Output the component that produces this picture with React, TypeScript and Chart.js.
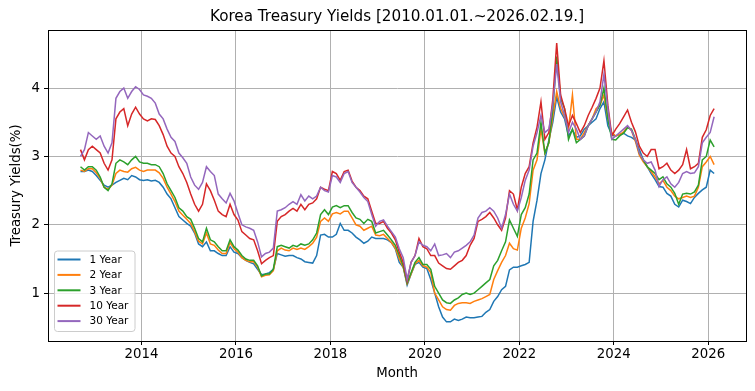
import React, { useEffect, useRef } from "react";
import { Chart, registerables } from "chart.js";

Chart.register(...registerables);

// Monthly observations, first month = 2012-09, last = 2026-02
const startYear = 2012;
const startMonth = 9;

const yield1Y = [
  2.78, 2.78, 2.80, 2.78,
  2.72, 2.65, 2.58, 2.55, 2.58, 2.62, 2.65, 2.68, 2.66, 2.72, 2.70, 2.66,
  2.65, 2.66, 2.64, 2.65, 2.62, 2.55, 2.45, 2.38, 2.25, 2.12, 2.07, 2.02,
  1.98, 1.88, 1.72, 1.68, 1.75, 1.62, 1.62, 1.58, 1.55, 1.55, 1.68, 1.60,
  1.58, 1.52, 1.48, 1.45, 1.43, 1.35, 1.27, 1.28, 1.30, 1.35, 1.58, 1.56,
  1.54, 1.55, 1.55, 1.52, 1.50, 1.46, 1.45, 1.44, 1.55, 1.85, 1.86, 1.82,
  1.82, 1.86, 2.02, 1.92, 1.92, 1.88, 1.82, 1.78, 1.73, 1.76, 1.82, 1.80,
  1.80, 1.80, 1.78, 1.74, 1.65, 1.45, 1.38, 1.12, 1.28, 1.42, 1.45, 1.38,
  1.36, 1.20, 1.00, 0.80, 0.65, 0.58, 0.58, 0.62, 0.60, 0.62, 0.65, 0.64,
  0.64, 0.65, 0.66, 0.72, 0.76, 0.88, 0.95, 1.05, 1.10, 1.34, 1.38, 1.38,
  1.40, 1.42, 1.45, 2.05, 2.36, 2.75, 2.95, 3.24, 3.50, 3.87, 3.65, 3.55,
  3.30, 3.39, 3.28, 3.30, 3.40, 3.45, 3.50, 3.55, 3.70, 3.80, 3.45, 3.32,
  3.30, 3.32, 3.34, 3.30, 3.28, 3.24, 3.10, 2.95, 2.85, 2.75, 2.66, 2.56,
  2.55, 2.46, 2.42, 2.30, 2.26, 2.36, 2.34, 2.31, 2.40, 2.46, 2.51, 2.55,
  2.80, 2.75,
];

const yield2Y = [
  2.80, 2.78, 2.82, 2.82,
  2.76, 2.68, 2.55, 2.52, 2.58, 2.75, 2.80, 2.78, 2.77, 2.82, 2.84, 2.80,
  2.78, 2.80, 2.80, 2.80, 2.76, 2.68, 2.55, 2.45, 2.34, 2.20, 2.14, 2.08,
  2.02, 1.90, 1.76, 1.72, 1.88, 1.72, 1.70, 1.63, 1.58, 1.58, 1.74, 1.65,
  1.60, 1.52, 1.48, 1.46, 1.46, 1.38, 1.24, 1.26, 1.27, 1.33, 1.62, 1.66,
  1.63, 1.62, 1.66, 1.64, 1.66, 1.64, 1.68, 1.73, 1.82, 2.05, 2.10, 2.05,
  2.16, 2.18, 2.16, 2.20, 2.20, 2.10, 2.00, 1.98, 1.92, 1.95, 1.98, 1.85,
  1.84, 1.86, 1.80, 1.74, 1.66, 1.50, 1.38, 1.14, 1.28, 1.43, 1.48, 1.40,
  1.38, 1.30, 1.00, 0.90, 0.80, 0.76, 0.75, 0.82, 0.85, 0.86, 0.86, 0.85,
  0.88, 0.90, 0.92, 0.95, 0.98, 1.20, 1.33, 1.45, 1.55, 1.73, 1.65, 1.63,
  1.95, 2.10, 2.31, 2.80, 2.95, 3.40, 3.05, 3.20, 3.58, 3.95, 3.70, 3.58,
  3.40, 3.90, 3.25, 3.25, 3.35, 3.45, 3.55, 3.70, 3.75, 3.90, 3.55, 3.35,
  3.30, 3.32, 3.36, 3.44, 3.38, 3.22, 3.02, 2.92, 2.85, 2.78, 2.70, 2.60,
  2.65, 2.55, 2.50, 2.42, 2.38, 2.40, 2.42, 2.40, 2.42, 2.55, 2.85, 2.92,
  3.00, 2.88,
];

const yield3Y = [
  2.85, 2.80, 2.85, 2.85,
  2.80, 2.70, 2.55, 2.50, 2.60, 2.90, 2.95, 2.92, 2.88, 2.95, 3.00, 2.92,
  2.90, 2.90, 2.88, 2.88, 2.85, 2.75, 2.60, 2.50, 2.40, 2.25, 2.20, 2.12,
  2.08, 1.95, 1.80, 1.75, 1.95, 1.78, 1.75, 1.68, 1.62, 1.62, 1.78, 1.68,
  1.63, 1.55, 1.50, 1.48, 1.48, 1.40, 1.25, 1.28, 1.28, 1.35, 1.68, 1.70,
  1.68, 1.66, 1.70, 1.68, 1.72, 1.70, 1.72, 1.78, 1.88, 2.15, 2.22, 2.15,
  2.26, 2.28, 2.25, 2.28, 2.28, 2.18, 2.10, 2.08, 2.02, 2.08, 2.05, 1.88,
  1.90, 1.92, 1.85, 1.78, 1.70, 1.55, 1.40, 1.15, 1.30, 1.45, 1.52, 1.42,
  1.42, 1.35, 1.10, 1.00, 0.90, 0.86, 0.85, 0.90, 0.93, 0.98, 1.00, 0.98,
  1.00, 1.05, 1.10, 1.15, 1.20, 1.40, 1.48, 1.62, 1.75, 2.07, 1.95, 1.83,
  2.15, 2.25, 2.45, 2.95, 3.05, 3.50, 3.05, 3.20, 3.68, 4.46, 3.85, 3.70,
  3.25, 3.40, 3.20, 3.25, 3.30, 3.45, 3.55, 3.65, 3.75, 4.00, 3.55, 3.25,
  3.24, 3.30, 3.34, 3.42, 3.40, 3.25, 3.05, 2.95, 2.85, 2.80, 2.75, 2.66,
  2.70, 2.60, 2.55, 2.46, 2.30, 2.45, 2.46, 2.45, 2.48, 2.58, 2.95, 3.00,
  3.24, 3.14,
];

const yield10Y = [
  3.10, 2.95, 3.10, 3.15,
  3.10, 3.05, 2.90, 2.80, 2.95, 3.55, 3.65, 3.70, 3.45, 3.62, 3.72, 3.62,
  3.55, 3.52, 3.55, 3.54, 3.45, 3.32, 3.15, 3.05, 3.00, 2.85, 2.75, 2.62,
  2.45, 2.30, 2.20, 2.30, 2.60, 2.50, 2.36, 2.20, 2.15, 2.12, 2.30, 2.15,
  2.07, 1.90, 1.85, 1.80, 1.78, 1.62, 1.43, 1.48, 1.52, 1.55, 2.05, 2.12,
  2.15, 2.20, 2.24, 2.20, 2.30, 2.22, 2.30, 2.32, 2.38, 2.55, 2.52, 2.50,
  2.78, 2.75, 2.65, 2.78, 2.80, 2.64, 2.55, 2.50, 2.42, 2.38, 2.20, 2.02,
  2.02, 2.05, 1.95, 1.88, 1.78, 1.60, 1.45, 1.18, 1.45, 1.55, 1.80, 1.68,
  1.65, 1.55, 1.55, 1.44, 1.40, 1.36, 1.35, 1.40, 1.45, 1.48, 1.55, 1.70,
  1.80, 2.05, 2.08, 2.12, 2.18, 2.10, 2.00, 1.92, 2.10, 2.50, 2.45, 2.22,
  2.55, 2.75, 2.85, 3.20, 3.43, 3.80, 3.25, 3.35, 3.83, 4.66, 3.90, 3.70,
  3.45, 3.60, 3.48, 3.35, 3.45, 3.60, 3.72, 3.85, 4.00, 4.40, 3.75, 3.30,
  3.40, 3.48, 3.58, 3.68, 3.50, 3.36, 3.15, 3.05, 3.00, 3.10, 3.10, 2.82,
  2.85, 2.90, 2.80, 2.75, 2.80, 2.88, 3.10, 2.82, 2.85, 2.90, 3.28, 3.39,
  3.60, 3.70,
];

const yield30Y = [
  3.00, 3.10, 3.35, 3.30,
  3.25, 3.30, 3.15, 3.05, 3.20, 3.85, 3.95, 4.00, 3.85, 3.95, 4.02, 3.98,
  3.90, 3.88, 3.85, 3.78, 3.62, 3.55, 3.40, 3.28, 3.22, 3.05, 2.98, 2.90,
  2.70, 2.58, 2.52, 2.62, 2.85, 2.78, 2.72, 2.45, 2.38, 2.32, 2.46, 2.35,
  2.17, 2.00, 1.97, 1.95, 1.92, 1.75, 1.53, 1.58, 1.60, 1.66, 2.20, 2.22,
  2.25, 2.30, 2.34, 2.30, 2.44, 2.35, 2.42, 2.38, 2.42, 2.55, 2.50, 2.48,
  2.72, 2.70, 2.62, 2.75, 2.78, 2.62, 2.55, 2.48, 2.40, 2.34, 2.15, 1.98,
  2.05, 2.07, 1.98, 1.90, 1.82, 1.65, 1.52, 1.20, 1.45, 1.55, 1.75, 1.70,
  1.68, 1.62, 1.72, 1.55, 1.56, 1.58, 1.52, 1.60, 1.62, 1.66, 1.70, 1.75,
  1.85, 2.10, 2.18, 2.20, 2.25, 2.20, 2.10, 1.95, 2.15, 2.45, 2.30, 2.20,
  2.40, 2.65, 2.80, 3.15, 3.35, 3.60, 3.35, 3.40, 3.75, 4.35, 3.80, 3.60,
  3.35, 3.50, 3.40, 3.25, 3.30, 3.45, 3.55, 3.65, 3.80, 4.20, 3.70, 3.25,
  3.30, 3.35, 3.40, 3.45, 3.38, 3.25, 3.05, 2.95, 2.90, 2.92, 2.80, 2.56,
  2.66, 2.70, 2.60, 2.55, 2.62, 2.75, 2.78, 2.75, 2.76, 2.85, 3.20, 3.28,
  3.35, 3.58,
];

const seriesNames = ["1 Year", "2 Year", "3 Year", "10 Year", "30 Year"];
const seriesColors = ["#1f77b4", "#ff7f0e", "#2ca02c", "#d62728", "#9467bd"];
const xTicks = [2014, 2016, 2018, 2020, 2022, 2024, 2026];
const yTicks = [1, 2, 3, 4];
const titleText = "Korea Treasury Yields [2010.01.01.~2026.02.19.]";

const FONT = "'DejaVu Sans', 'Liberation Sans', sans-serif";

const monthX = yield1Y.map((_, i) => {
  const m = startMonth - 1 + i;
  return startYear + Math.floor(m / 12) + ((m % 12) + 0.5) / 12;
});

const frameLegendTitle = {
  id: "frameLegendTitle",
  afterDatasetsDraw(chart: any) {
    const { ctx, chartArea } = chart;
    ctx.save();
    // title centred over the axes
    ctx.fillStyle = "#000";
    ctx.font = `15.2px ${FONT}`;
    ctx.textAlign = "center";
    ctx.textBaseline = "middle";
    ctx.fillText(titleText, (chartArea.left + chartArea.right) / 2, chartArea.top - 13);
    // frame (all four spines)
    ctx.strokeStyle = "#000";
    ctx.lineWidth = 1;
    ctx.strokeRect(
      Math.round(chartArea.left) + 0.5,
      Math.round(chartArea.top) + 0.5,
      Math.round(chartArea.right - chartArea.left),
      Math.round(chartArea.bottom - chartArea.top)
    );
    // legend, lower left inside the axes
    const n = seriesNames.length;
    const rowH = 15.4;
    const boxX = chartArea.left + 6.5;
    const boxW = 80.5;
    const boxH = rowH * n + 3.5;
    const boxY = chartArea.bottom - 9.5 - boxH;
    const r = 3;
    ctx.beginPath();
    ctx.moveTo(boxX + r, boxY);
    ctx.lineTo(boxX + boxW - r, boxY);
    ctx.quadraticCurveTo(boxX + boxW, boxY, boxX + boxW, boxY + r);
    ctx.lineTo(boxX + boxW, boxY + boxH - r);
    ctx.quadraticCurveTo(boxX + boxW, boxY + boxH, boxX + boxW - r, boxY + boxH);
    ctx.lineTo(boxX + r, boxY + boxH);
    ctx.quadraticCurveTo(boxX, boxY + boxH, boxX, boxY + boxH - r);
    ctx.lineTo(boxX, boxY + r);
    ctx.quadraticCurveTo(boxX, boxY, boxX + r, boxY);
    ctx.closePath();
    ctx.fillStyle = "rgba(255,255,255,0.8)";
    ctx.fill();
    ctx.strokeStyle = "#cccccc";
    ctx.stroke();
    ctx.font = `10.5px ${FONT}`;
    ctx.textBaseline = "middle";
    ctx.textAlign = "left";
    for (let i = 0; i < n; i++) {
      const yy = boxY + 8.5 + i * rowH;
      ctx.strokeStyle = seriesColors[i];
      ctx.lineWidth = 2;
      ctx.beginPath();
      ctx.moveTo(boxX + 3, yy);
      ctx.lineTo(boxX + 26, yy);
      ctx.stroke();
      ctx.fillStyle = "#000";
      ctx.fillText(seriesNames[i], boxX + 35, yy + 0.5);
    }
    ctx.restore();
  },
};

export default function App() {
  const canvasRef = useRef<HTMLCanvasElement | null>(null);

  useEffect(() => {
    if (!canvasRef.current) return;
    const allSeries = [yield1Y, yield2Y, yield3Y, yield10Y, yield30Y];
    const chart = new Chart(canvasRef.current, {
      type: "line",
      data: {
        datasets: allSeries.map((vals, k) => ({
          label: seriesNames[k],
          data: vals.map((v, i) => ({ x: monthX[i], y: v })),
          borderColor: seriesColors[k],
          backgroundColor: seriesColors[k],
          borderWidth: 1.5,
          pointRadius: 0,
          tension: 0,
          fill: false,
          order: allSeries.length - k,
        })),
      },
      options: {
        animation: false,
        responsive: false,
        devicePixelRatio: 1,
        layout: { padding: { left: 0, right: 9, top: 30, bottom: 0 } },
        plugins: {
          legend: { display: false },
          tooltip: { enabled: false },
          title: { display: false },
        },
        scales: {
          x: {
            type: "linear",
            min: 2012.02,
            max: 2026.8,
            afterFit: (s: any) => {
              s.height = 50;
            },
            afterBuildTicks: (s: any) => {
              s.ticks = xTicks.map((v) => ({ value: v }));
            },
            ticks: {
              color: "#000",
              font: { family: FONT, size: 13.3 },
              padding: 2,
              maxRotation: 0,
              autoSkip: false,
              callback: (v: any) => String(v),
            },
            grid: {
              color: "#b0b0b0",
              lineWidth: 1,
              tickLength: 4,
              tickColor: "#000",
            },
            border: { display: true, color: "#000", width: 1 },
            title: {
              display: true,
              text: "Month",
              color: "#000",
              font: { family: FONT, size: 13.3 },
              padding: { top: 0, bottom: 9 },
            },
          },
          y: {
            type: "linear",
            min: 0.3,
            max: 4.85,
            afterFit: (s: any) => {
              s.width = 48;
            },
            afterBuildTicks: (s: any) => {
              s.ticks = yTicks.map((v) => ({ value: v }));
            },
            ticks: {
              color: "#000",
              font: { family: FONT, size: 13.3 },
              padding: 4,
              autoSkip: false,
              callback: (v: any) => String(v),
            },
            grid: {
              color: "#b0b0b0",
              lineWidth: 1,
              tickLength: 4,
              tickColor: "#000",
            },
            border: { display: true, color: "#000", width: 1 },
            title: {
              display: true,
              text: "Treasury Yields(%)",
              color: "#000",
              font: { family: FONT, size: 13.3 },
              padding: { top: 9, bottom: 0 },
            },
          },
        },
      },
      plugins: [frameLegendTitle],
    });
    return () => chart.destroy();
  }, []);

  return (
    <div style={{ position: "absolute", left: 0, top: 0, width: 755, height: 391, background: "#fff" }}>
      <canvas ref={canvasRef} width={755} height={391} />
    </div>
  );
}
